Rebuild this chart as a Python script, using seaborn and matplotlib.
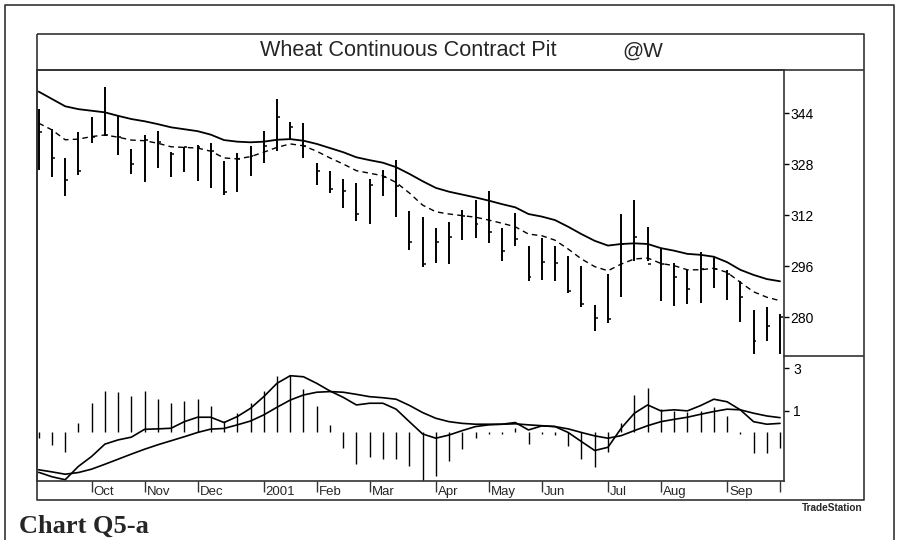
import numpy as np
import pandas as pd
import matplotlib
matplotlib.use("Agg")
import matplotlib.pyplot as plt
import matplotlib.transforms as mtrans
import seaborn as sns

# ---------------- data ----------------
weeks = pd.date_range("2000-09-08", periods=57, freq="7D")   # weekly bars (Fridays)

high = [345.5, 339.1, 329.9, 338.0, 342.7, 352.2, 343.2, 332.8, 337.2, 338.5,
        331.8, 333.3, 334.1, 334.6, 328.9, 331.5, 333.8, 338.5, 348.5, 341.4,
        341.0, 328.4, 325.8, 323.4, 322.1, 323.4, 326.3, 329.3, 313.3, 311.4,
        307.9, 310.0, 313.7, 316.8, 319.7, 308.0, 312.7, 302.5, 304.9, 302.5,
        299.1, 296.0, 283.9, 293.7, 312.4, 316.8, 308.2, 301.4, 297.0, 294.9,
        300.4, 298.8, 294.8, 291.5, 282.4, 283.1, 281.0]
low = [326.2, 323.9, 318.1, 324.6, 334.7, 337.0, 331.0, 324.9, 322.5, 326.7,
       324.1, 325.5, 322.7, 320.6, 318.4, 319.4, 324.4, 328.4, 332.1, 335.9,
       329.9, 321.6, 318.9, 314.3, 310.3, 309.3, 318.1, 311.4, 301.1, 295.9,
       297.0, 296.7, 304.3, 304.9, 303.2, 297.8, 302.3, 291.3, 291.7, 291.3,
       287.5, 283.1, 275.8, 278.1, 286.3, 297.8, 297.8, 285.2, 283.6, 284.2,
       284.5, 289.1, 285.5, 278.4, 268.5, 272.5, 268.5]
close = [338.0, 330.0, 323.0, 326.0, 336.7, 337.3, 336.5, 328.0, 335.6, 334.9,
         331.2, 333.3, 333.3, 332.1, 319.2, 329.7, 330.7, 333.8, 342.7, 339.6,
         333.8, 325.8, 320.3, 319.7, 312.4, 321.6, 323.9, 321.3, 303.5, 296.7,
         303.5, 305.1, 311.9, 309.3, 306.7, 300.9, 304.6, 292.7, 297.3, 297.0,
         288.3, 284.2, 279.8, 279.5, 303.0, 305.1, 296.7, 296.7, 292.6, 288.9,
         295.2, 295.2, 293.6, 286.3, 272.7, 277.4, 280.0]
ma_solid = [350.8, 348.5, 346.2, 345.3, 344.8, 344.3, 343.2, 342.2, 341.5, 340.6,
            339.6, 339.0, 338.4, 337.3, 335.6, 335.1, 334.9, 335.1, 335.7, 335.9,
            335.4, 334.4, 333.1, 331.8, 330.2, 329.3, 328.5, 327.1, 325.0, 322.7,
            320.6, 319.4, 318.5, 317.6, 316.6, 315.5, 314.5, 312.4, 311.6, 310.5,
            308.4, 306.1, 304.0, 302.5, 303.0, 303.2, 303.0, 301.7, 300.9, 299.9,
            299.6, 299.0, 297.3, 294.9, 293.3, 292.0, 291.3]
ma_dash = [340.9, 338.8, 335.7, 335.9, 336.7, 337.2, 336.5, 335.6, 335.4, 334.6,
           333.5, 333.3, 333.1, 332.1, 330.0, 329.7, 330.4, 331.8, 333.3, 334.4,
           333.8, 332.1, 330.0, 328.1, 326.0, 325.2, 324.4, 322.3, 319.0, 315.2,
           313.1, 312.4, 311.9, 311.4, 310.5, 309.5, 308.4, 306.1, 305.6, 304.2,
           301.4, 298.3, 295.9, 294.6, 296.7, 298.3, 298.6, 296.9, 296.2, 294.9,
           294.9, 295.4, 294.1, 291.0, 288.0, 286.3, 285.2]
hist = [-0.30, -0.62, -0.93, 0.40, 1.38, 1.94, 1.87, 1.70, 1.94, 1.54,
        1.35, 1.47, 1.54, 1.24, 0.53, 0.88, 1.35, 1.93, 2.64, 2.68,
        2.01, 1.24, 0.33, -0.76, -1.50, -1.18, -1.26, -1.26, -1.60, -2.30,
        -2.07, -1.37, -0.82, -0.30, -0.10, -0.10, 0.20, -0.55, -0.10, -0.15,
        -0.66, -1.29, -1.68, -0.97, 0.44, 1.75, 2.07, 1.08, 1.00, 0.92,
        1.00, 1.16, 0.77, -0.10, -1.00, -1.00, -0.75]
osc_fast = [-1.91, -2.12, -2.26, -1.63, -1.16, -0.58, -0.38, -0.25, 0.12, 0.14,
            0.17, 0.48, 0.69, 0.69, 0.44, 0.72, 1.11, 1.66, 2.29, 2.65,
            2.60, 2.29, 1.93, 1.63, 1.27, 1.35, 1.35, 1.07, 0.48, -0.10,
            -0.30, -0.15, 0.06, 0.25, 0.33, 0.36, 0.44, 0.09, 0.28, 0.25,
            -0.03, -0.46, -0.88, -0.73, 0.17, 0.88, 1.27, 0.99, 1.04, 0.99,
            1.24, 1.54, 1.42, 1.04, 0.48, 0.36, 0.40]
osc_slow = [-1.79, -1.89, -2.00, -1.92, -1.76, -1.53, -1.29, -1.05, -0.82, -0.61,
            -0.42, -0.23, -0.03, 0.13, 0.16, 0.33, 0.51, 0.80, 1.16, 1.50,
            1.74, 1.87, 1.90, 1.87, 1.77, 1.66, 1.61, 1.54, 1.25, 0.91,
            0.64, 0.48, 0.40, 0.36, 0.36, 0.36, 0.38, 0.33, 0.29, 0.25,
            0.14, -0.03, -0.19, -0.30, -0.18, 0.06, 0.29, 0.48, 0.59, 0.69,
            0.83, 0.96, 1.07, 1.04, 0.88, 0.75, 0.67]
price_ticks = [280, 296, 312, 328, 344]
osc_ticks = [1, 3]
month_labels = ["Oct", "Nov", "Dec", "2001", "Feb", "Mar", "Apr", "May",
                "Jun", "Jul", "Aug", "Sep", ""]
title_main = "Wheat Continuous Contract Pit"
title_sym = "@W"

# ---------------- style ----------------
sns.set_style("white")
plt.rcParams['font.family'] = ['Liberation Sans', 'DejaVu Sans']

W, H = 897, 540
fig = plt.figure(figsize=(W / 100, H / 100), dpi=100)


def rect(l, t, r, b):
    return [l / W, 1 - b / H, (r - l) / W, (b - t) / H]


FR = '#333333'
bg = fig.add_axes([0, 0, 1, 1])
bg.set_xlim(0, W)
bg.set_ylim(H, 0)
bg.axis('off')
fl = dict(color=FR, lw=1.2, solid_capstyle='butt')
bg.plot([4.5, 4.5, 894, 894], [540, 5, 5, 540], **fl)          # outer border
bg.plot([37, 864, 864, 37, 37], [34, 34, 500, 500, 34], **fl)   # chart box
bg.plot([37, 864], [69.5, 69.5], **fl)                          # title box bottom
bg.plot([784, 864], [356, 356], **fl)                           # axis section split
bg.text(260, 51, title_main, fontsize=15.6, va='center', ha='left')
bg.text(622, 51, title_sym, fontsize=15, va='center', ha='left')
bg.text(862, 508, "TradeStation", fontsize=7.2, weight='bold', ha='right', va='center')
bg.text(19, 526, "Chart Q5-a", family=['Liberation Serif', 'DejaVu Serif'],
        weight='bold', fontsize=19, va='center', ha='left')

x = np.arange(len(weeks))
XL = (-0.128, 56.30)

# ---------------- price panel ----------------
ax = fig.add_axes(rect(37, 69.5, 784, 356))
ax.patch.set_alpha(0)
ax.vlines(x, low, high, colors='black', lw=1.4)
ax.hlines(close, x, x + 0.22, colors='black', lw=1.1)
sns.lineplot(x=x, y=ma_solid, ax=ax, color='black', lw=1.3)
sns.lineplot(x=x, y=ma_dash, ax=ax, color='black', lw=1.0)
ax.lines[-1].set_dashes([4, 3])
ax.set_xlim(*XL)
ax.set_ylim(267.86, 357.74)
ax.set_xticks([])
ax.yaxis.tick_right()
ax.set_yticks(price_ticks)
ax.set_yticklabels([str(v) for v in price_ticks])
ax.tick_params(axis='y', direction='out', length=3.5, width=1, labelsize=10,
               pad=1, colors='black', right=True, left=False)
ax.set_xlabel('')
ax.set_ylabel('')
for s in ['left', 'top', 'right']:
    ax.spines[s].set_color(FR)
    ax.spines[s].set_linewidth(1.2)
ax.spines['bottom'].set_visible(False)

# ---------------- oscillator panel ----------------
ax2 = fig.add_axes(rect(37, 356, 784, 481))
ax2.patch.set_alpha(0)
ax2.vlines(x, 0, hist, colors='black', lw=1.0)
sns.lineplot(x=x, y=osc_fast, ax=ax2, color='black', lw=1.2)
sns.lineplot(x=x, y=osc_slow, ax=ax2, color='black', lw=1.2)
ax2.set_xlim(*XL)
ax2.set_ylim(-2.32, 3.58)
ax2.yaxis.tick_right()
ax2.set_yticks(osc_ticks)
ax2.set_yticklabels([str(v) for v in osc_ticks])
ax2.tick_params(axis='y', direction='out', length=3.5, width=1, labelsize=10,
                pad=3, colors='black', right=True, left=False)
ax2.set_xlabel('')
ax2.set_ylabel('')
for s in ['left', 'bottom', 'right']:
    ax2.spines[s].set_color(FR)
    ax2.spines[s].set_linewidth(1.2)
ax2.spines['top'].set_visible(False)

# month ticks at first week of each month
month_pos = [i for i in range(1, len(weeks)) if weeks[i].month != weeks[i - 1].month]
ax2.set_xticks(month_pos)
ax2.set_xticklabels([])
ax2.tick_params(axis='x', direction='out', length=8, width=1, colors=FR, bottom=True)
tr = mtrans.blended_transform_factory(ax2.transData, ax2.transAxes)
for p, lab in zip(month_pos, month_labels):
    ax2.text(p + 0.15, -0.085, lab, transform=tr, fontsize=9.5, ha='left', va='center')

fig.savefig("out.png", dpi=100)
